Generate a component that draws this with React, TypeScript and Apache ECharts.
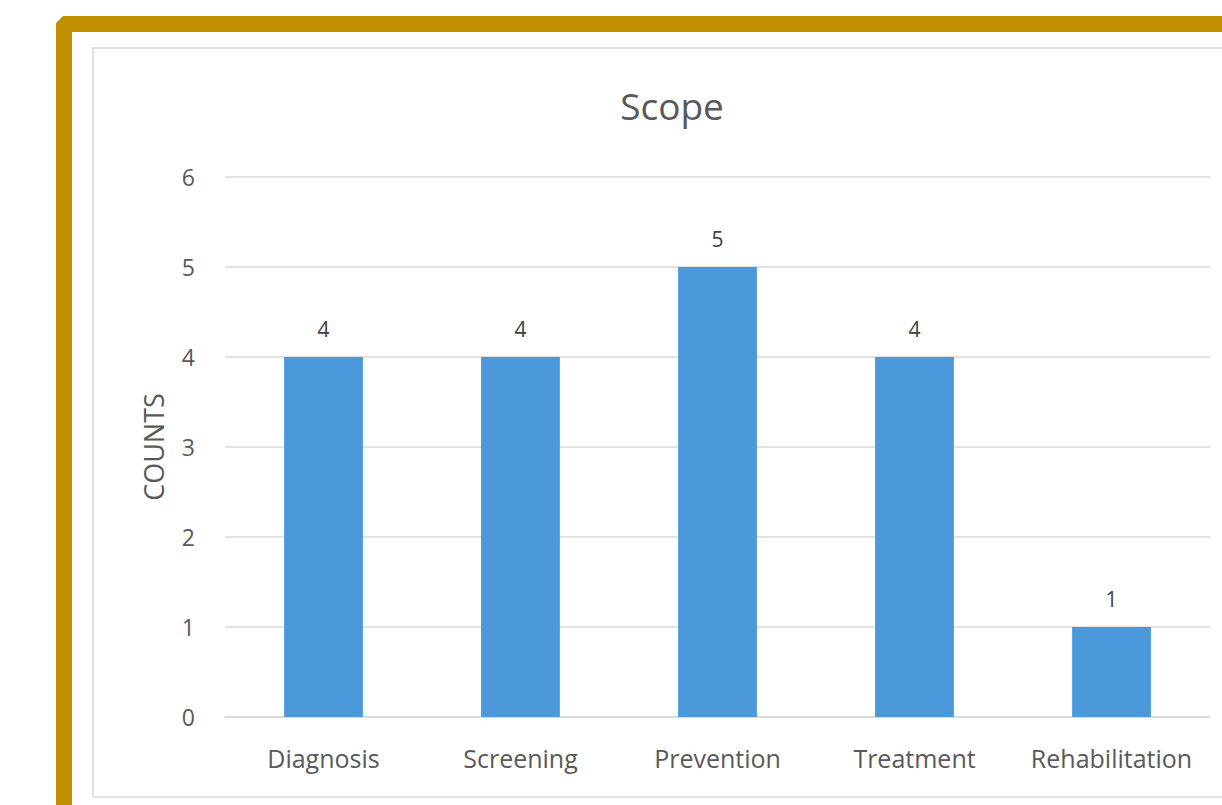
import React, { useEffect, useRef } from "react";
import * as echarts from "echarts";

const categories = ["Diagnosis", "Screening", "Prevention", "Treatment", "Rehabilitation"];
const counts = [4, 4, 5, 4, 1];
const chartTitle = "Scope";
const yAxisName = "COUNTS";

export default function App() {
  const ref = useRef<HTMLDivElement>(null);
  useEffect(() => {
    if (!ref.current) return;
    const chart = echarts.init(ref.current, null, { renderer: "svg" });
    const font = "Open Sans";
    const textColor = "#595959";
    chart.setOption({
      animation: false,
      backgroundColor: "#ffffff",
      graphic: [
        {
          type: "polygon",
          z: 0,
          silent: true,
          shape: {
            points: [
              [56, 23],
              [63, 16],
              [1222, 16],
              [1222, 32],
              [72, 32],
              [72, 805],
              [56, 805],
            ],
          },
          style: { fill: "#C09000" },
        },
        {
          type: "rect",
          z: 0,
          silent: true,
          shape: { x: 93, y: 48, width: 1150, height: 749 },
          style: { fill: "#ffffff", stroke: "#d9d9d9", lineWidth: 1.5 },
        },
      ],
      title: {
        text: chartTitle,
        left: 667,
        textAlign: "center",
        top: 82,
        textStyle: { fontFamily: font, fontSize: 37, fontWeight: "normal", color: textColor },
      },
      grid: { left: 225, right: 12, top: 177, bottom: 88 },
      xAxis: {
        type: "category",
        data: categories,
        axisLine: { lineStyle: { color: "#d9d9d9", width: 1.5 } },
        axisTick: { show: false },
        axisLabel: {
          interval: 0,
          hideOverlap: false,
          margin: 28,
          fontFamily: font,
          fontSize: 25,
          color: textColor,
        },
      },
      yAxis: {
        type: "value",
        min: 0,
        max: 6,
        interval: 1,
        name: yAxisName,
        nameLocation: "middle",
        nameGap: 58,
        nameRotate: 90,
        nameTextStyle: { fontFamily: font, fontSize: 27, color: textColor },
        axisLine: { show: false },
        axisTick: { show: false },
        axisLabel: { margin: 30, fontFamily: font, fontSize: 23, color: textColor },
        splitLine: { lineStyle: { color: "#d9d9d9", width: 1.5 } },
      },
      series: [
        {
          type: "bar",
          data: counts,
          barWidth: "40%",
          itemStyle: { color: "#4B98DA" },
          label: {
            show: true,
            position: "top",
            distance: 18,
            fontFamily: font,
            fontSize: 21,
            color: "#404040",
          },
        },
      ],
    });
    return () => chart.dispose();
  }, []);
  return (
    <div
      ref={ref}
      style={{ position: "fixed", left: 0, top: 0, width: 1222, height: 805 }}
    />
  );
}
